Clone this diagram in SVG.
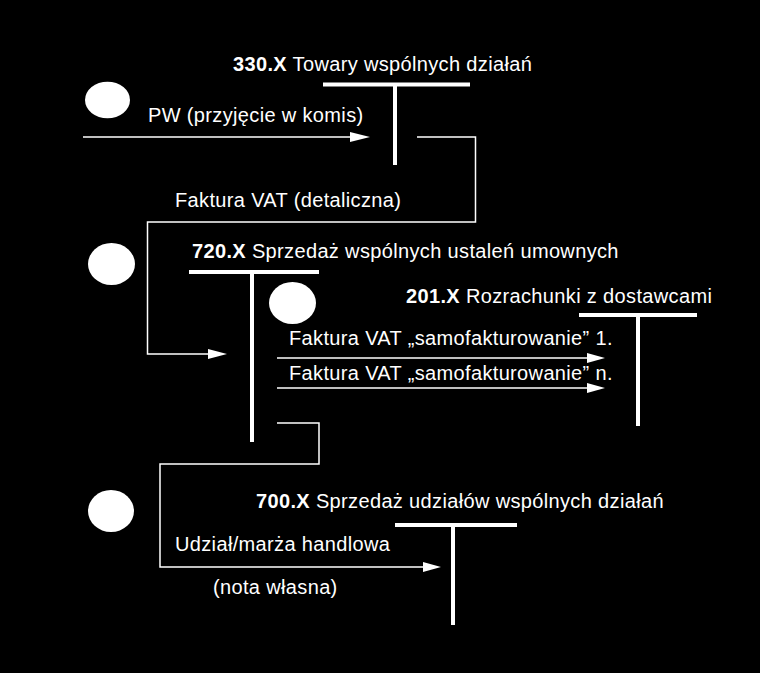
<svg xmlns="http://www.w3.org/2000/svg" width="760" height="673" viewBox="0 0 760 673">
<style>
text{font-family:"Liberation Sans",Arial,sans-serif;font-size:20px;letter-spacing:0.35px;fill:#fff}
.b{font-weight:bold}
.tb{stroke:#fff;stroke-width:4;fill:none}
.cn{stroke:#fff;stroke-width:1.5;fill:none}
.ah{fill:#fff}
.dot{fill:#fff}
</style>
<rect width="760" height="673" fill="#000"/>
<g id="markers">
<ellipse class="dot" cx="107.5" cy="100" rx="22.5" ry="18.3"/>
<ellipse class="dot" cx="111.5" cy="264" rx="23.5" ry="21"/>
<ellipse class="dot" cx="292.5" cy="303" rx="23.5" ry="21"/>
<ellipse class="dot" cx="111" cy="511" rx="23" ry="21"/>
</g>
<g id="acc330">
<path class="tb" d="M323,84.5H470M395,84.5V165"/>
<text x="233" y="71"><tspan class="b">330.X</tspan> Towary wspólnych działań</text>
</g>
<g id="acc720">
<path class="tb" d="M189,272H319M252,272V442"/>
<text x="192" y="258"><tspan class="b">720.X</tspan> Sprzedaż wspólnych ustaleń umownych</text>
</g>
<g id="acc201">
<path class="tb" d="M579,315H697M638,315V426"/>
<text x="406" y="303"><tspan class="b">201.X</tspan> Rozrachunki z dostawcami</text>
</g>
<g id="acc700">
<path class="tb" d="M395,525H517M453,525V625"/>
<text x="256" y="508"><tspan class="b">700.X</tspan> Sprzedaż udziałów wspólnych działań</text>
</g>
<g id="connectors">
<path class="cn" d="M83,137H352"/>
<polygon class="ah" points="350,132 370,137 350,142"/>
<path class="cn" d="M417,137H475.5V222H147.5V354H210"/>
<polygon class="ah" points="208,349 227,354 208,359"/>
<path class="cn" d="M277,358H590"/>
<polygon class="ah" points="587,353 605,358 587,363"/>
<path class="cn" d="M277,388H590"/>
<polygon class="ah" points="587,383 605,388 587,393"/>
<path class="cn" d="M277,423H319V464H160V567H425"/>
<polygon class="ah" points="423,562 441,567 423,572"/>
</g>
<g id="labels">
<text x="148" y="122">PW (przyjęcie w komis)</text>
<text x="175" y="207">Faktura VAT (detaliczna)</text>
<text x="289" y="345">Faktura VAT „samofakturowanie” 1.</text>
<text x="289" y="380">Faktura VAT „samofakturowanie” n.</text>
<text x="175" y="551">Udział/marża handlowa</text>
<text x="213" y="594">(nota własna)</text>
</g>
</svg>
